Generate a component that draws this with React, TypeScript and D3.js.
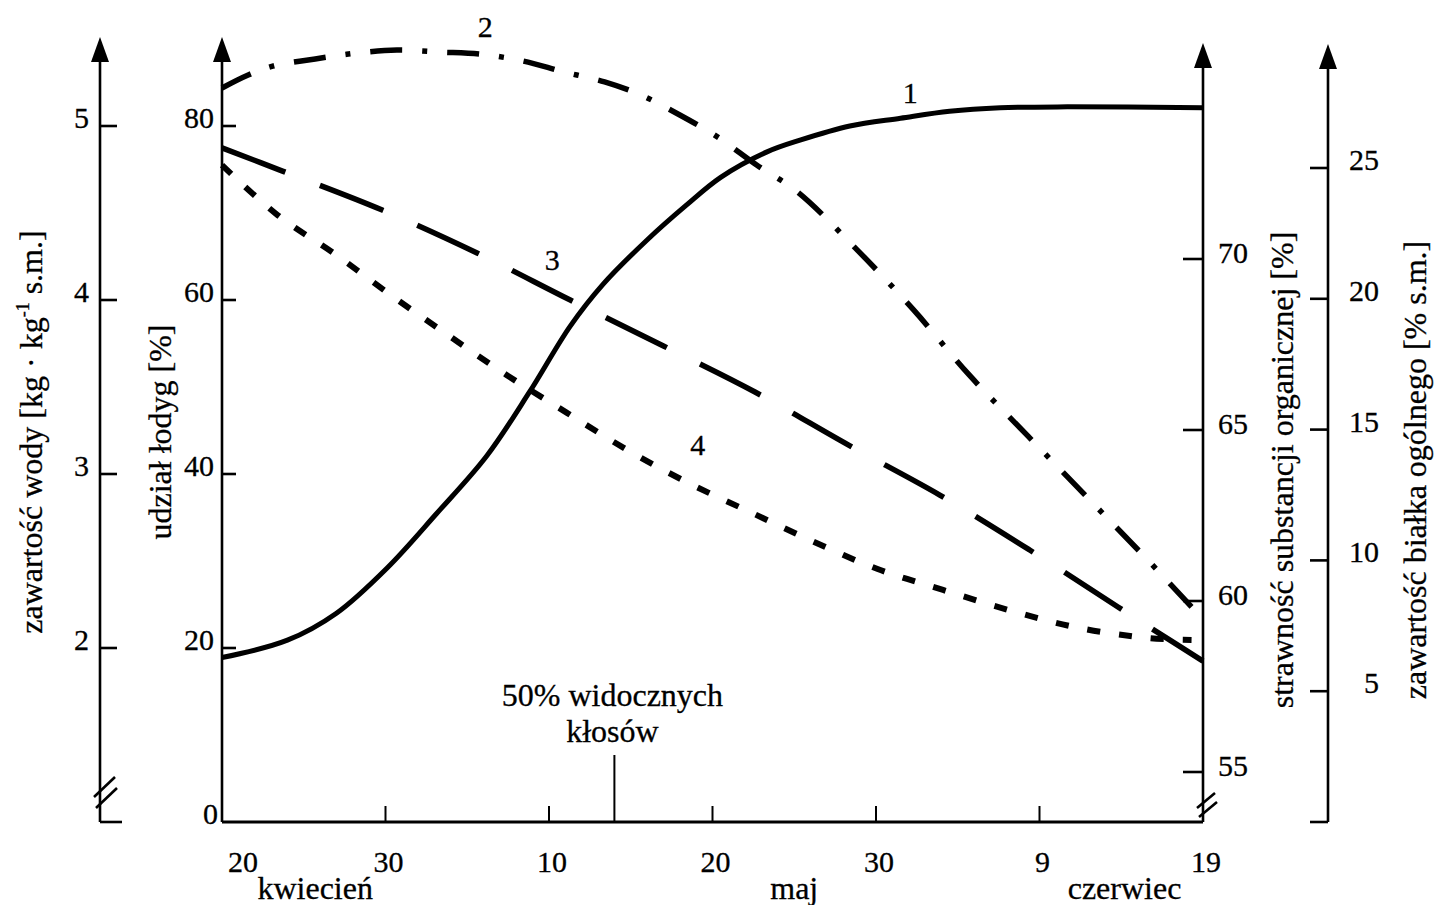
import React from "react";
import * as d3 from "d3";

// ---- axes / ticks ----
const dayTicks = [0, 10, 20, 30, 40, 50, 60];
const dayTickLabels = ["20", "30", "10", "20", "30", "9", "19"];
const months = ["kwiecień", "maj", "czerwiec"];
const monthDays = [5.7, 35.0, 55.2];
const headingDay = 24; // 50% widocznych kłosów

const stemTicks = [0, 20, 40, 60, 80];
const waterTicks = [2, 3, 4, 5];
const digestTicks = [55, 60, 65, 70];
const proteinTicks = [5, 10, 15, 20, 25];

// ---- series ----
// 1: udział łodyg [%]
const stemDays = [0, 4.0, 7.0, 10.1, 13.1, 16.2, 18.8, 21.3, 23.3, 26.0, 28.4, 30.5, 33.3, 35.4, 38.4, 41.5, 44.5, 47.6, 51.7, 60];
const stemVals = [18.9, 20.9, 24.0, 29.2, 35.4, 42.1, 49.4, 57.0, 61.8, 66.9, 70.9, 74.1, 77.0, 78.4, 80.0, 80.9, 81.7, 82.1, 82.2, 82.1];
// 2: strawność substancji organicznej [%]
const digestDays = [0, 1.6, 3.1, 5.7, 8.2, 10.7, 13.3, 15.8, 18.4, 20.9, 23.4, 25.6, 28.0, 30.3, 32.7, 35.2, 38.8, 42.3, 45.7, 49.3, 52.9, 56.5, 60];
const digestVals = [75.0, 75.38, 75.64, 75.85, 76.02, 76.11, 76.05, 75.99, 75.79, 75.47, 75.18, 74.8, 74.21, 73.57, 72.75, 71.96, 70.29, 68.51, 66.61, 64.82, 63.04, 61.26, 59.47];
// 3: zawartość wody [kg·kg-1 s.m.]
const waterDays = [0, 3.7, 9.8, 15.6, 21.3, 27.0, 32.6, 38.3, 43.9, 49.4, 54.8, 56.8, 60];
const waterVals = [4.874, 4.741, 4.517, 4.27, 4.0, 3.736, 3.471, 3.167, 2.879, 2.563, 2.236, 2.115, 1.925];
// 4: zawartość białka ogólnego [% s.m.]
const proteinDays = [0, 3.4, 7.0, 10.4, 13.9, 17.4, 21.1, 24.8, 28.4, 32.3, 36.1, 40.1, 44.1, 48.3, 52.4, 56.7, 59.3];
const proteinVals = [25.11, 23.2, 21.67, 20.11, 18.58, 17.09, 15.64, 14.22, 13.0, 11.85, 10.74, 9.67, 8.87, 8.07, 7.42, 7.03, 6.96];

const curveLabels = ["1", "2", "3", "4"];
const curveLabelDays = [42.1, 16.1, 20.2, 29.1];
const curveLabelStem = [83.8, 91.4, 64.6, 43.3];

const W = 1438;
const H = 905;
const FONT = "'Liberation Serif', 'Times New Roman', serif";

export default function App() {
  const xMain = 222;
  const xRight = 1203;
  const xWater = 100;
  const xProt = 1328;
  const yBase = 822;

  const x = d3.scaleLinear().domain([0, 60]).range([xMain, xRight]);
  const yStem = d3.scaleLinear().domain([0, 80]).range([yBase, 126]);
  const yWater = d3.scaleLinear().domain([2, 5]).range([648, 126]);
  const yDig = d3.scaleLinear().domain([55, 70]).range([772, 259]);
  const yProt = d3.scaleLinear().domain([0, 25]).range([yBase, 168]);

  const mk = (ds: number[], vs: number[], ys: d3.ScaleLinear<number, number>) =>
    d3
      .line<number>()
      .x((_, i) => x(ds[i]))
      .y((v) => ys(v))
      .curve(d3.curveCatmullRom.alpha(0.5))(vs) || "";

  const path1 = mk(stemDays, stemVals, yStem);
  const path2 = mk(digestDays, digestVals, yDig);
  const path3 = mk(waterDays, waterVals, yWater);
  const path4 = mk(proteinDays, proteinVals, yProt);

  const axisW = 2.6;
  const arrow = (cx: number, tip: number) => `M${cx},${tip} L${cx - 9},${tip + 25} L${cx + 9},${tip + 25} Z`;
  const fs = 30; // tick numbers
  const ft = 32; // titles and words
  const txt = { stroke: "#000", strokeWidth: 0.3 };

  return (
    <svg
      width={W}
      height={H}
      viewBox={`0 0 ${W} ${H}`}
      style={{ position: "absolute", left: 0, top: 0, background: "#fff" }}
      fontFamily={FONT}
    >
      <rect width={W} height={H} fill="#fff" />

      {/* water axis (left) */}
      <g stroke="#000" strokeWidth={axisW} fill="none">
        <line x1={xWater} y1={55} x2={xWater} y2={yBase} />
        <line x1={xWater} y1={yBase} x2={xWater + 22} y2={yBase} />
        <line x1={xWater - 6} y1={797} x2={xWater + 15} y2={777} />
        <line x1={xWater - 4} y1={808} x2={xWater + 17} y2={788} />
        {waterTicks.map((t) => (
          <line key={t} x1={xWater} y1={yWater(t)} x2={xWater + 17} y2={yWater(t)} />
        ))}
      </g>
      <path d={arrow(xWater, 37)} fill="#000" />
      <g {...txt}>
        {waterTicks.map((t) => (
          <text key={t} x={89} y={yWater(t) + 2} fontSize={fs} textAnchor="end">
            {t}
          </text>
        ))}
        <text transform={`translate(42,432) rotate(-90)`} fontSize={ft} textAnchor="middle">
          zawartość wody [kg · kg
          <tspan fontSize={18} dy={-13}>-1</tspan>
          <tspan dy={13}> s.m.]</tspan>
        </text>
      </g>

      {/* main axis (udział łodyg) */}
      <g stroke="#000" strokeWidth={axisW} fill="none">
        <line x1={xMain} y1={55} x2={xMain} y2={yBase} />
        {stemTicks.slice(1).map((t) => (
          <line key={t} x1={xMain} y1={yStem(t)} x2={xMain + 14} y2={yStem(t)} />
        ))}
      </g>
      <path d={arrow(xMain, 37)} fill="#000" />
      <g {...txt}>
        {stemTicks.map((t) => (
          <text key={t} x={t === 0 ? 218 : 214} y={yStem(t) + 2} fontSize={fs} textAnchor="end">
            {t}
          </text>
        ))}
        <text transform={`translate(171,432) rotate(-90)`} fontSize={ft} textAnchor="middle">
          udział łodyg [%]
        </text>
      </g>

      {/* digestibility axis (right) */}
      <g stroke="#000" strokeWidth={axisW} fill="none">
        <line x1={xRight} y1={60} x2={xRight} y2={yBase} />
        {digestTicks.map((t) => (
          <line key={t} x1={xRight - 20} y1={yDig(t)} x2={xRight} y2={yDig(t)} />
        ))}
        <line x1={xRight - 6} y1={808} x2={xRight + 12} y2={793} />
        <line x1={xRight - 4} y1={817} x2={xRight + 14} y2={802} />
      </g>
      <path d={arrow(xRight, 43)} fill="#000" />
      <g {...txt}>
        {digestTicks.map((t) => (
          <text key={t} x={1218} y={yDig(t) + 4} fontSize={fs} textAnchor="start">
            {t}
          </text>
        ))}
        <text transform={`translate(1293,470) rotate(-90)`} fontSize={ft} textAnchor="middle">
          strawność substancji organicznej [%]
        </text>
      </g>

      {/* protein axis (far right) */}
      <g stroke="#000" strokeWidth={axisW} fill="none">
        <line x1={xProt} y1={62} x2={xProt} y2={yBase} />
        <line x1={xProt - 18} y1={yBase} x2={xProt} y2={yBase} />
        {proteinTicks.map((t) => (
          <line key={t} x1={xProt - 18} y1={yProt(t)} x2={xProt} y2={yProt(t)} />
        ))}
      </g>
      <path d={arrow(xProt, 44)} fill="#000" />
      <g {...txt}>
        {proteinTicks.map((t) => (
          <text key={t} x={1379} y={yProt(t) + 2} fontSize={fs} textAnchor="end">
            {t}
          </text>
        ))}
        <text transform={`translate(1426,470) rotate(-90)`} fontSize={ft} textAnchor="middle">
          zawartość białka ogólnego [% s.m.]
        </text>
      </g>

      {/* x axis */}
      <g stroke="#000" fill="none">
        <line x1={xMain} y1={yBase} x2={xRight} y2={yBase} strokeWidth={3} />
        {dayTicks.slice(1, -1).map((d) => (
          <line key={d} x1={x(d)} y1={yBase} x2={x(d)} y2={yBase - 16} strokeWidth={2} />
        ))}
        <line x1={x(headingDay)} y1={yBase} x2={x(headingDay)} y2={yBase - 67} strokeWidth={2} />
      </g>
      <g {...txt}>
        {dayTicks.map((d, i) => (
          <text
            key={i}
            x={i === 0 ? x(d) + 6 : x(d) + 3}
            y={872}
            fontSize={fs}
            textAnchor={i === 0 ? "start" : "middle"}
          >
            {dayTickLabels[i]}
          </text>
        ))}
        {months.map((m, i) => (
          <text key={m} x={x(monthDays[i])} y={899} fontSize={ft} textAnchor="middle">
            {m}
          </text>
        ))}
        <text x={x(headingDay) - 2} y={706} fontSize={ft} textAnchor="middle">
          50% widocznych
        </text>
        <text x={x(headingDay) - 2} y={742} fontSize={ft} textAnchor="middle">
          kłosów
        </text>
      </g>

      {/* curves */}
      <g fill="none" stroke="#000">
        <path d={path1} strokeWidth={5} />
        <path d={path2} strokeWidth={5.5} strokeDasharray="32 20 5 20" />
        <path d={path3} strokeWidth={5.5} strokeDasharray="68 37" />
        <path d={path4} strokeWidth={6} strokeDasharray="13 19" />
      </g>

      <g {...txt}>
        {curveLabels.map((l, i) => (
          <text
            key={l}
            x={x(curveLabelDays[i])}
            y={yStem(curveLabelStem[i]) + 10}
            fontSize={fs}
            textAnchor="middle"
          >
            {l}
          </text>
        ))}
      </g>
    </svg>
  );
}
